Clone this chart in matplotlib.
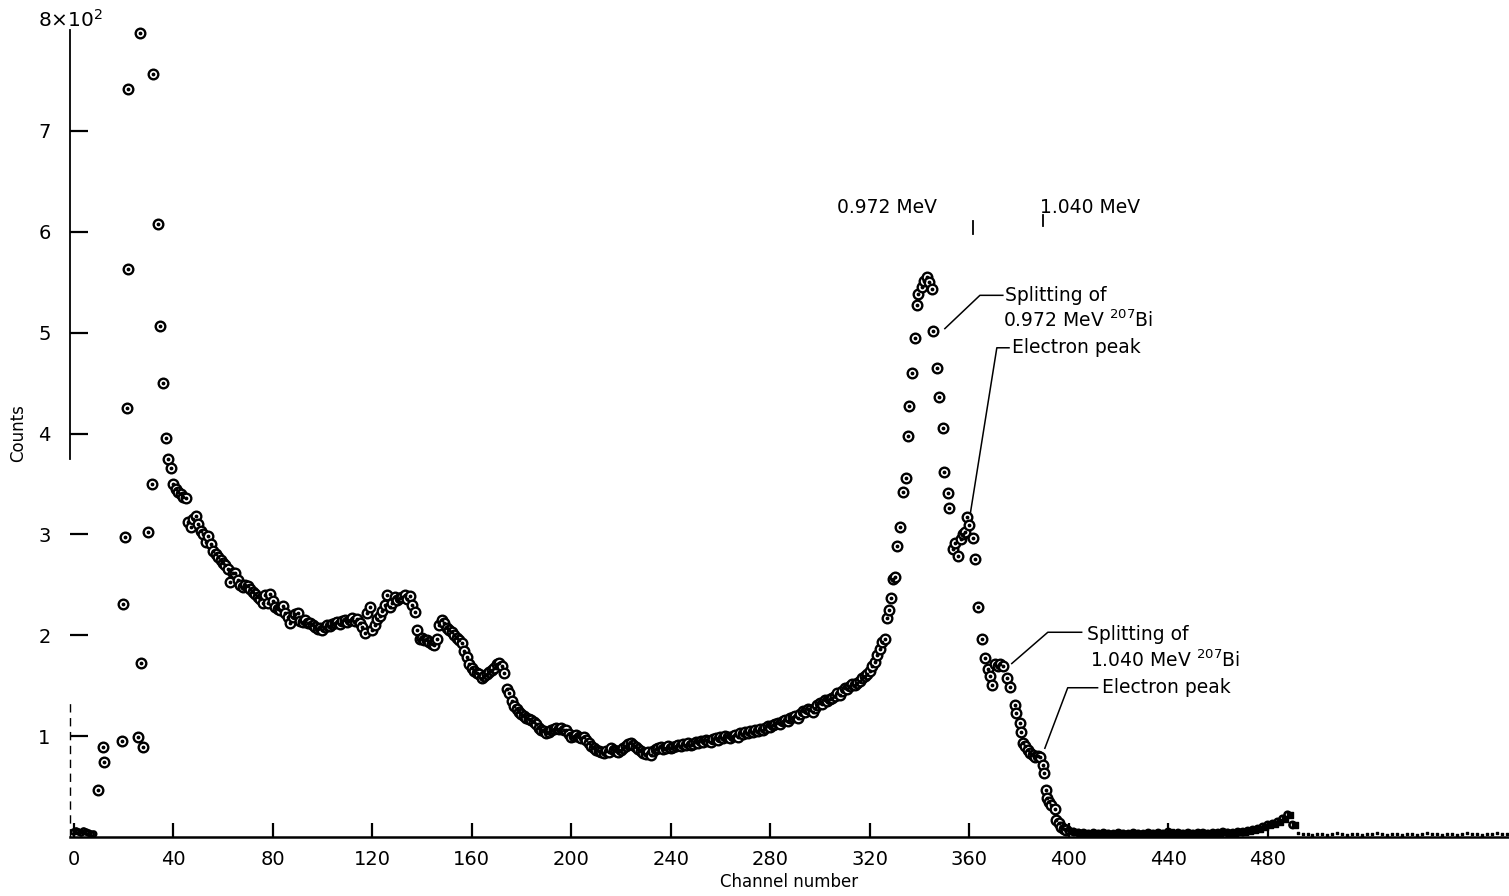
import numpy as np
import matplotlib.pyplot as plt

# counts per channel (207Bi)
base_ch = [0, 1, 2, 3, 4, 5, 6, 7, 8]
base_counts = [5, 6, 5, 4, 6, 5, 4, 3, 3]

early_ch = [9.6, 11.6, 12, 19.3, 19.7, 20.5, 21.3, 21.7, 21.7, 26,
            26.5, 27, 28, 29.7, 31.3, 32, 33.7, 34.5, 36, 37]
early_counts = [47, 89, 74, 95, 231, 297, 425, 563, 742, 99,
                797, 173, 89, 302, 350, 756, 608, 507, 450, 396]

# channels 38 .. 326, one value per channel
dense_start = 38
dense_counts = [
    375, 366,
    350, 345, 342, 340, 337, 336, 312, 307, 315, 318,
    310, 303, 300, 292, 298, 290, 284, 281, 278, 275,
    272, 270, 266, 253, 262, 262, 255, 250, 248, 250,
    249, 246, 243, 241, 238, 236, 232, 240, 232, 241,
    234, 228, 226, 225, 229, 222, 218, 212, 218, 221,
    222, 214, 213, 215, 212, 212, 210, 208, 206, 207,
    205, 208, 210, 209, 211, 212, 213, 211, 214, 215,
    213, 215, 217, 214, 216, 212, 208, 202, 222, 228,
    205, 210, 216, 219, 224, 230, 240, 228, 232, 238,
    235, 237, 238, 240, 236, 239, 230, 223, 205, 196,
    197, 195, 195, 193, 191, 190, 196, 210, 215, 212,
    207, 205, 203, 200, 197, 195, 192, 184, 178, 172,
    168, 165, 163, 162, 158, 160, 162, 164, 166, 168,
    172, 173, 170, 163, 147, 143, 135, 130, 127, 124,
    122, 120, 118, 117, 116, 114, 112, 108, 106, 105,
    103, 104, 106, 107, 108, 107, 108, 106, 106, 102,
    99, 100, 101, 99, 98, 99, 96, 93, 90, 88,
    86, 85, 84, 83, 85, 84, 88, 86, 85, 84,
    86, 88, 90, 92, 93, 91, 89, 87, 85, 83,
    82, 84, 81, 85, 87, 88, 89, 87, 88, 90,
    88, 89, 90, 91, 90, 92, 91, 93, 91, 92,
    94, 93, 95, 94, 96, 95, 94, 97, 98, 96,
    99, 98, 100, 99, 98, 100, 101, 99, 103, 102,
    104, 103, 105, 104, 106, 105, 107, 106, 108, 110,
    109, 111, 112, 113, 112, 115, 116, 115, 118, 119,
    120, 118, 122, 125, 124, 127, 126, 124, 128, 131,
    133, 132, 136, 135, 137, 138, 140, 143, 141, 145,
    148, 147, 150, 152, 151, 153, 155, 158, 160, 162,
    165, 170, 174, 180, 186, 193, 196]
dense_ch = np.arange(dense_start, dense_start + len(dense_counts))

peak_ch = [327, 327.6, 328.4, 329.2, 330, 331, 332, 333.3, 334.4, 335.2,
           335.8, 337, 338, 339, 339.5, 341, 342, 343, 344, 345,
           345.4, 347, 347.8, 349.4, 349.8, 351.4, 351.8, 353.4, 354.2, 355.4,
           356.5, 357.3, 358.2, 359, 360, 361.4, 362.2, 363.7, 365, 366.3,
           367.5, 368.4, 369.3, 370.5, 371.5, 372.5, 373.5, 375, 376.5, 378.3,
           378.8, 380.3, 380.8, 381.6, 382.5, 383.5, 384.5, 385.5, 386.3, 387.5,
           388.3, 389.6, 390.1, 390.8, 391.3, 392.2, 393, 394.4, 395, 396,
           397, 398, 399]
peak_counts = [217, 225, 237, 256, 258, 289, 307, 342, 356, 398,
               427, 460, 495, 527, 538, 545, 551, 555, 550, 543,
               502, 465, 436, 405, 362, 341, 326, 286, 291, 279,
               295, 300, 302, 317, 309, 296, 276, 228, 196, 177,
               167, 160, 151, 172, 170, 172, 170, 158, 149, 131,
               123, 113, 104, 93, 90, 86, 83, 81, 79, 80,
               79, 71, 63, 47, 39, 35, 32, 28, 17, 14,
               10, 8, 7]

# channels 400 .. 490 every second channel
tail_ch = np.arange(400, 491, 2)
tail_counts = [6, 5, 4, 4, 3, 4, 3, 4, 3, 3,
               4, 3, 3, 4, 3, 3, 4, 3, 4, 3,
               5, 3, 4, 3, 4, 3, 4, 4, 3, 4,
               4, 5, 4, 4, 5, 5, 6, 7, 8, 10,
               12, 13, 15, 18, 22, 12]

# channels 492 .. 576 every second channel
far_ch = np.arange(492, 577, 2)
far_counts = [4, 3, 3, 2, 3, 3, 2, 3, 4, 3,
              2, 3, 3, 2, 3, 3, 4, 3, 2, 3,
              3, 2, 3, 3, 2, 3, 4, 3, 3, 2,
              3, 3, 2, 3, 4, 3, 3, 2, 3, 3,
              4, 3, 3]

xticks = [0, 40, 80, 120, 160, 200, 240, 280, 320, 360, 400, 440, 480]
yticks = [100, 200, 300, 400, 500, 600, 700]
ytick_labels = ['1', '2', '3', '4', '5', '6', '7']

fig = plt.figure(figsize=(15.09, 8.96), dpi=100)
ax = fig.add_axes([0.0464, 0.0658, 0.9536, 0.9007])

x_all = np.concatenate([early_ch, dense_ch, peak_ch])
y_all = np.concatenate([early_counts, dense_counts, peak_counts])
ax.scatter(x_all, y_all, s=48, facecolors='white', edgecolors='black',
           linewidths=1.7, clip_on=False, zorder=3)
ax.scatter(x_all, y_all, s=3, color='black', clip_on=False, zorder=4)

# low-count regions: small crowded marks
ax.scatter(base_ch, base_counts, s=14, facecolors='none', edgecolors='black',
           linewidths=1.8, zorder=3)
ax.scatter(tail_ch, tail_counts, s=20, facecolors='none', edgecolors='black',
           linewidths=1.9, zorder=3)
ax.scatter(tail_ch + 1, tail_counts, s=14, marker='s', color='black', zorder=3)
ax.scatter(far_ch, far_counts, s=4, marker='s', color='black', zorder=3)

ax.set_xlim(-1.5, 577)
ax.set_ylim(0, 800)

for s in ['top', 'right']:
    ax.spines[s].set_visible(False)
ax.spines['left'].set_bounds(375, 800)
ax.spines['left'].set_linewidth(1.3)
ax.spines['bottom'].set_linewidth(1.8)
ax.plot([-1.5, -1.5], [0, 135], color='black', lw=1.0, ls=(0, (6, 4)),
        clip_on=False)

ax.set_xticks(xticks)
ax.set_xticklabels([str(t) for t in xticks])
ax.set_yticks(yticks)
ax.set_yticklabels(ytick_labels)
ax.tick_params(axis='x', direction='in', length=10, width=1.6,
               labelsize=14, pad=9)
ax.tick_params(axis='y', direction='in', length=13, width=1.6,
               labelsize=14, pad=14)
ax.text(-1.5, 810, '8×10$^2$', ha='center', va='center', fontsize=14.5)

ax.set_xlabel('Channel number', fontsize=12, labelpad=3)
ax.set_ylabel('Counts', fontsize=12)
ax.yaxis.set_label_coords(-0.03, 0.5)

# line positions
fs = 13.5
ax.text(307, 624, '0.972 MeV', fontsize=fs, va='center')
ax.plot([361.4, 361.4], [598, 611], color='black', lw=1.3)
ax.text(388.4, 624, '1.040 MeV', fontsize=fs, va='center')
ax.plot([389.6, 389.6], [606, 617], color='black', lw=1.3)

# labels for the split peaks
ax.plot([350.2, 364.3, 373.5], [504, 537, 537], color='black', lw=1.1)
ax.text(374.5, 537, 'Splitting of', fontsize=fs, va='center')
ax.text(373.5, 512, '0.972 MeV $^{207}$Bi', fontsize=fs, va='center')
ax.plot([360.2, 371.1, 376.0], [317, 485, 485], color='black', lw=1.1)
ax.text(377.0, 485, 'Electron peak', fontsize=fs, va='center')

ax.plot([377.1, 391.6, 405.2], [172, 203, 203], color='black', lw=1.1)
ax.text(407.2, 201, 'Splitting of', fontsize=fs, va='center')
ax.text(408.4, 175, '1.040 MeV $^{207}$Bi', fontsize=fs, va='center')
ax.plot([390.4, 399.6, 411.6], [88, 148, 148], color='black', lw=1.1)
ax.text(413.5, 148, 'Electron peak', fontsize=fs, va='center')

fig.savefig('out.png', dpi=100)
